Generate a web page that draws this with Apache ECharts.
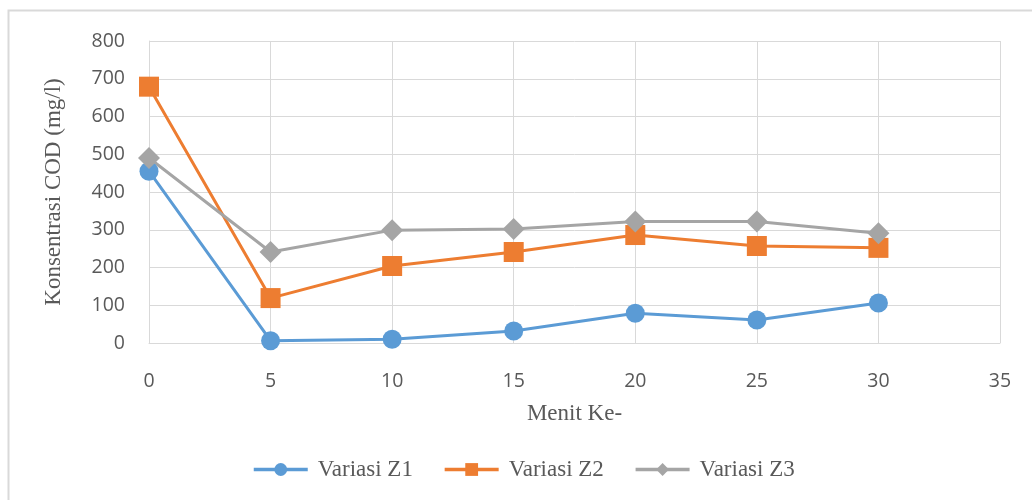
<!DOCTYPE html>
<html><head><meta charset="utf-8">
<script src="https://cdn.jsdelivr.net/npm/echarts@6/dist/echarts.min.js"></script>
<style>html,body{margin:0;padding:0;background:#fff}#c{width:1032px;height:500px}</style>
</head><body><div id="c"></div>
<script>
const minutes = [0, 5, 10, 15, 20, 25, 30];
const z1 = [455, 6, 10, 32, 79, 61, 106];
const z2 = [679, 119, 204, 241, 286, 257, 252];
const z3 = [490, 241, 299, 302, 322, 322, 291];
const seriesNames = ['Variasi Z1', 'Variasi Z2', 'Variasi Z3'];
const xTitle = 'Menit Ke-';
const yTitle = 'Konsentrasi COD (mg/l)';

const colors = ['#5b9bd5', '#ed7d31', '#a5a5a5'];
const symbols = ['circle', 'rect', 'diamond'];
const sizes = [19, 20, 22];
const pairs = a => minutes.map((m, i) => [m, a[i]]);

const chart = echarts.init(document.getElementById('c'), null, {renderer: 'canvas'});
chart.setOption({
  animation: false,
  graphic: [{type: 'rect', shape: {x: 8.5, y: 10.5, width: 1100, height: 600}, style: {fill: 'none', stroke: '#d9d9d9', lineWidth: 2}, z: -10}],
  grid: {left: 149, right: 32, top: 41, bottom: 157},
  xAxis: {
    type: 'value', min: 0, max: 35, interval: 5,
    name: xTitle, nameLocation: 'middle', nameGap: 59,
    nameTextStyle: {fontFamily: 'Liberation Serif', fontSize: 23, color: '#595959'},
    axisLine: {show: true, lineStyle: {color: '#d9d9d9', width: 1}},
    axisTick: {show: false},
    splitLine: {show: true, lineStyle: {color: '#d9d9d9', width: 1}},
    axisLabel: {fontFamily: 'Open Sans', fontSize: 19.5, color: '#595959', margin: 28}
  },
  yAxis: {
    type: 'value', min: 0, max: 800, interval: 100,
    name: yTitle, nameLocation: 'middle', nameGap: 84, nameRotate: 90,
    nameTextStyle: {fontFamily: 'Liberation Serif', fontSize: 23, color: '#595959'},
    axisLine: {show: true, lineStyle: {color: '#d9d9d9', width: 1}},
    axisTick: {show: false},
    splitLine: {show: true, lineStyle: {color: '#d9d9d9', width: 1}},
    axisLabel: {fontFamily: 'Open Sans', fontSize: 19.5, color: '#595959', margin: 24}
  },
  legend: {
    top: 453, left: 247, itemWidth: 54, itemHeight: 16, itemGap: 30,
    lineStyle: {width: 3.5},
    formatter: n => '{t|' + n + '}',
    textStyle: {
      fontFamily: 'Liberation Serif', fontSize: 23, color: '#595959',
      rich: {t: {fontFamily: 'Liberation Serif', fontSize: 23, color: '#595959', padding: [0, 0, 0, 5]}}
    },
    data: seriesNames
  },
  series: [z1, z2, z3].map((d, i) => ({
    name: seriesNames[i], type: 'line', data: pairs(d),
    symbol: symbols[i], symbolSize: sizes[i],
    lineStyle: {color: colors[i], width: 3},
    itemStyle: {color: colors[i]}
  }))
});
</script></body></html>
